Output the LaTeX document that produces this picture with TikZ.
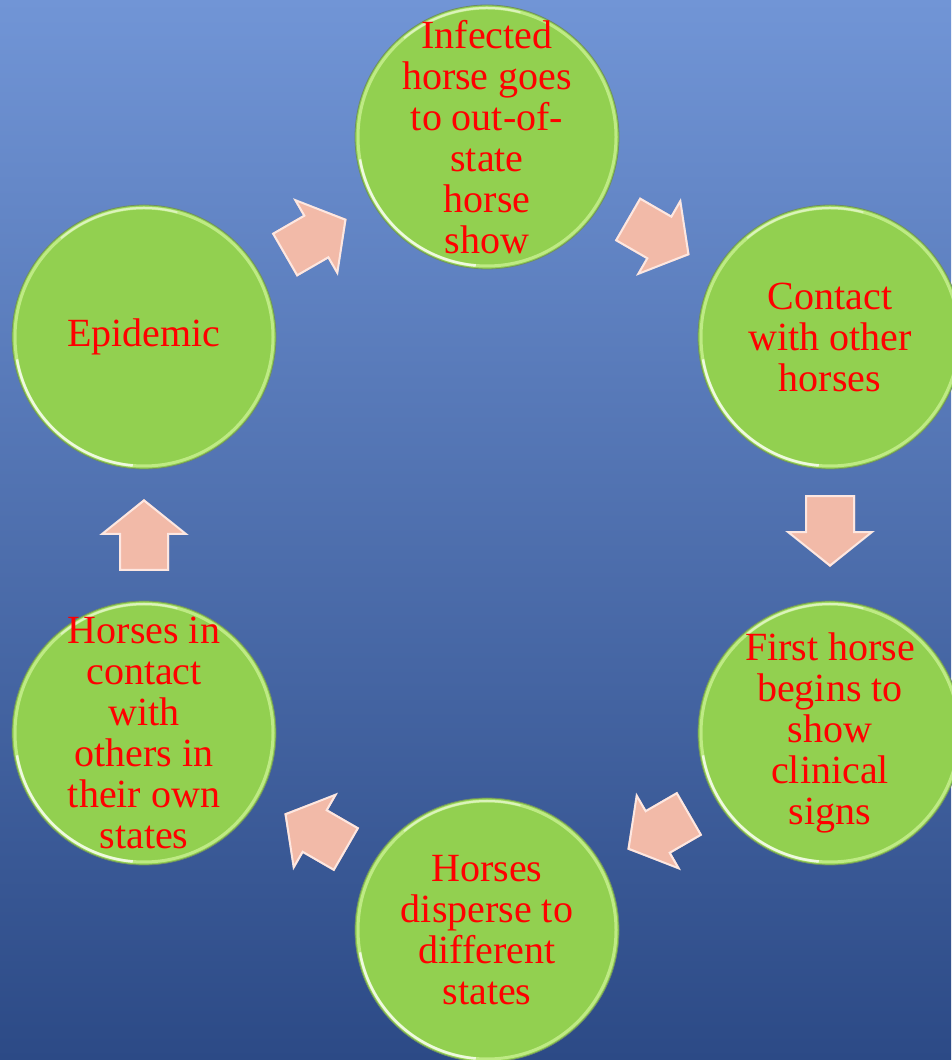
\documentclass[tikz,border=0pt]{standalone}
\usepackage{fontspec}
\setmainfont{Liberation Serif}
\usetikzlibrary{calc}
\definecolor{bgtop}{RGB}{113,149,214}
\definecolor{bgmid}{RGB}{72,114,196}
\definecolor{bgbot}{RGB}{44,74,134}
\definecolor{ballgreen}{RGB}{146,208,80}
\definecolor{ballrim}{RGB}{190,234,132}
\definecolor{ballline}{RGB}{110,140,100}
\definecolor{arrowpink}{RGB}{242,186,168}
\definecolor{arrowedge}{RGB}{255,240,235}
\definecolor{txtred}{RGB}{255,0,0}
\newcommand\ballfx[1]{%
  \draw[ballrim, line width=3pt] (#1.center) circle (129pt);
  \draw[white, line width=2.5pt, opacity=.75] ($(#1.center)+(190:129pt)$) arc (190:265:129pt);
  \draw[white, line width=2pt, opacity=.45] ($(#1.center)+(75:129pt)$) arc (75:130:129pt);
}
\begin{document}
\begin{tikzpicture}[x=1pt,y=1pt,
  ball/.style={circle, minimum size=264pt, inner sep=0pt, fill=ballgreen, draw=ballline, line width=0.8pt},
  balltext/.style={align=center, text=txtred, font=\fontsize{40}{41}\selectfont, inner sep=0pt},
  blockarrow/.pic={
    \fill[arrowpink] (-36,-25) -- (0,-25) -- (0,-44) -- (36,0) -- (0,44) -- (0,25) -- (-36,25) -- cycle;
    \draw[arrowedge, line width=2pt, line join=miter, opacity=.85] (-35,-24) -- (1,-24) -- (1,-42) -- (34.5,0) -- (1,42) -- (1,24) -- (-35,24) -- cycle;
  }
]
\useasboundingbox (0,0) rectangle (951,1060);
\shade[top color=bgtop, middle color=bgmid, bottom color=bgbot] (0,0) rectangle (951,1060);

\node[ball] (t)  at (487,923) {};
\node[ball] (ru) at (830,723) {};
\node[ball] (rl) at (830,327) {};
\node[ball] (b)  at (487,130) {};
\node[ball] (ll) at (144,327) {};
\node[ball] (lu) at (144,723) {};

\foreach \n in {t,ru,rl,b,ll,lu} {\ballfx{\n}}

\node[balltext] at (t)  {Infected\\horse goes\\to out-of-\\state\\horse\\show};
\node[balltext] at (ru) {Contact\\with other\\horses};
\node[balltext] at (rl) {First horse\\begins to\\show\\clinical\\signs};
\node[balltext] at (b)  {Horses\\disperse to\\different\\states};
\node[balltext] at (ll) {Horses in\\contact\\with\\others in\\their own\\states};
\node[balltext] at (lu) {Epidemic};

\pic[rotate=-30]  at ($(t)!0.5!(ru)$)  {blockarrow};
\pic[rotate=-90]  at ($(ru)!0.49!(rl)$) {blockarrow};
\pic[rotate=-150] at ($(rl)!0.5!(b)$)  {blockarrow};
\pic[rotate=150]  at ($(b)!0.5!(ll)$)  {blockarrow};
\pic[rotate=90]   at ($(ll)!0.5!(lu)$) {blockarrow};
\pic[rotate=30]   at ($(lu)!0.5!(t)$)  {blockarrow};
\end{tikzpicture}
\end{document}
